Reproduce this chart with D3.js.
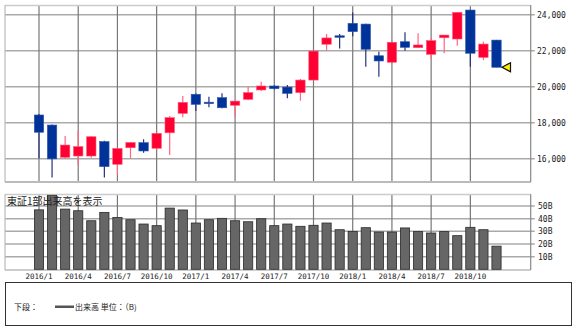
<!DOCTYPE html>
<html>
<head>
<meta charset="utf-8">
<script src="https://cdn.jsdelivr.net/npm/d3@7"></script>
<style>
  body { margin: 0; background: #fff; }
  .num { font-family: "DejaVu Sans Mono", "Liberation Mono", monospace; fill: #222; }
  .jp { font-family: "Noto Sans CJK JP", sans-serif; fill: #222; }
</style>
</head>
<body>
<div id="chart"></div>
<script>
// monthly data, 2016/1 - 2018/12
var months = ["2016/1","2016/2","2016/3","2016/4","2016/5","2016/6","2016/7","2016/8","2016/9","2016/10","2016/11","2016/12",
              "2017/1","2017/2","2017/3","2017/4","2017/5","2017/6","2017/7","2017/8","2017/9","2017/10","2017/11","2017/12",
              "2018/1","2018/2","2018/3","2018/4","2018/5","2018/6","2018/7","2018/8","2018/9","2018/10","2018/11","2018/12"];
var open  = [18430,17870,16080,16150,16150,16950,15690,16610,16890,16580,17440,18520,
             19580,19140,19390,18970,19300,19820,20040,19980,19670,20370,22360,22830,
             23520,23480,21720,21360,22500,22170,21800,22720,22650,24260,21630,22590];
var high  = [18480,17900,17260,17560,17250,17000,16600,16920,17080,17420,18370,19480,
             19620,19440,19630,19210,20000,20280,20080,20090,20430,21990,22930,22930,
             24120,23500,21940,22470,23020,22970,22690,22880,24140,24280,22500,22600];
var low   = [16020,14950,16000,15650,16050,14950,15090,16020,16330,16500,16200,18300,
             18650,18860,18800,18330,19250,19760,19850,19360,19220,20360,22000,22130,
             22800,21110,20560,21300,22000,22150,21520,21860,22280,21110,21480,21080];
var close = [17470,15990,16760,16670,17220,15560,16570,16900,16430,17410,18280,19130,
             19020,19110,18830,19200,19670,20040,19890,19630,20370,21980,22710,22800,
             23060,22080,21430,22470,22190,22320,22560,22870,24130,21860,22370,21080];
var volume = [47,58.5,47.6,46.3,38.4,45,41,39.2,35.8,34.5,48.4,46.9,
              36.6,39.2,40.3,38.4,37.6,40,34.5,35.8,34,34.8,36.6,31.3,
              30,32.9,29.5,29.5,32.7,29.8,28.7,29.8,26.6,33.2,31.3,18.3];
var priceTicks = [16000,18000,20000,22000,24000];
var volTicks = [10,20,30,40,50];
var labelIdx = [0,3,6,9,12,15,18,21,24,27,30,33];

var width = 580, height = 329;
var plotL = 5, plotR = 530.7;
var upColor = "#ff0033", downColor = "#003399";

var svg = d3.select("#chart").append("svg")
    .attr("width", width)
    .attr("height", height);

var x = d3.scaleLinear().domain([0, months.length - 1]).range([39, 496.5]);
var y = d3.scaleLinear().domain([14706, 24540]).range([182, 5]);
var yv = d3.scaleLinear().domain([0, 59.3]).range([269.3, 194.3]);
var fmt = d3.format(",");

// ---- price panel ----
var priceG = svg.append("g");

priceG.selectAll(".hgrid")
    .data(priceTicks)
  .enter().append("line")
    .attr("x1", plotL).attr("x2", plotR + 4)
    .attr("y1", function(d) { return y(d); })
    .attr("y2", function(d) { return y(d); })
    .style("stroke", "#aaa")
    .style("stroke-width", 1.5);

priceG.selectAll(".vgrid")
    .data(labelIdx)
  .enter().append("line")
    .attr("x1", function(d) { return x(d); })
    .attr("x2", function(d) { return x(d); })
    .attr("y1", y.range()[1]).attr("y2", y.range()[0])
    .style("stroke", "#777")
    .style("stroke-width", 1.2);

// frame
priceG.append("line").attr("x1", plotL).attr("x2", plotR).attr("y1", 5.5).attr("y2", 5.5)
    .style("stroke", "#ccc").style("stroke-width", 1.5);
priceG.append("line").attr("x1", plotL).attr("x2", plotR).attr("y1", 182).attr("y2", 182)
    .style("stroke", "#bbb").style("stroke-width", 2);
priceG.append("line").attr("x1", plotL).attr("x2", plotL).attr("y1", 5).attr("y2", 182)
    .style("stroke", "#bbb").style("stroke-width", 1.2);
priceG.append("line").attr("x1", plotR).attr("x2", plotR).attr("y1", 5).attr("y2", 182)
    .style("stroke", "#888").style("stroke-width", 1.2);

// candles
var candles = priceG.selectAll(".candle")
    .data(months.map(function(m, i) { return i; }))
  .enter().append("g");

candles.append("line")
    .attr("x1", function(i) { return x(i); })
    .attr("x2", function(i) { return x(i); })
    .attr("y1", function(i) { return y(high[i]); })
    .attr("y2", function(i) { return y(low[i]); })
    .style("stroke", function(i) { return close[i] >= open[i] ? "#ff6680" : "#223377"; })
    .style("stroke-width", 1.2);

candles.append("rect")
    .attr("x", function(i) { return x(i) - 4.7; })
    .attr("width", 9.4)
    .attr("y", function(i) { return y(Math.max(open[i], close[i])); })
    .attr("height", function(i) { return Math.max(1.5, Math.abs(y(open[i]) - y(close[i]))); })
    .style("fill", function(i) { return close[i] >= open[i] ? upColor : downColor; })
    .style("stroke", function(i) { return close[i] >= open[i] ? "#ff5577" : "#3355aa"; })
    .style("stroke-width", 0.6);

// last close marker
var last = months.length - 1;
var tx = x(last) + 5.5, ty = y(close[last]);
priceG.append("path")
    .attr("d", "M" + tx + "," + ty + "L" + (tx + 8.5) + "," + (ty - 4.5) + "L" + (tx + 8.5) + "," + (ty + 4.5) + "Z")
    .style("fill", "#ffee00")
    .style("stroke", "#111")
    .style("stroke-width", 1.2);

priceG.selectAll(".ptick")
    .data(priceTicks)
  .enter().append("text")
    .attr("class", "num")
    .attr("x", 537)
    .attr("y", function(d) { return y(d) + 3; })
    .style("font-size", "8px")
    .text(function(d) { return fmt(d); });

// ---- volume panel ----
var volG = svg.append("g");

volG.selectAll(".vhgrid")
    .data(volTicks)
  .enter().append("line")
    .attr("x1", plotL).attr("x2", plotR + 4)
    .attr("y1", function(d) { return yv(d); })
    .attr("y2", function(d) { return yv(d); })
    .style("stroke", "#aaa")
    .style("stroke-width", 1.5);

volG.selectAll(".vvgrid")
    .data(labelIdx)
  .enter().append("line")
    .attr("x1", function(d) { return x(d); })
    .attr("x2", function(d) { return x(d); })
    .attr("y1", 194.3).attr("y2", 270)
    .style("stroke", "#777")
    .style("stroke-width", 1.2);

volG.append("line").attr("x1", plotL).attr("x2", plotR).attr("y1", 194.5).attr("y2", 194.5)
    .style("stroke", "#ccc").style("stroke-width", 1.5);
volG.append("line").attr("x1", plotL).attr("x2", plotR).attr("y1", 270).attr("y2", 270)
    .style("stroke", "#bbb").style("stroke-width", 1.5);
volG.append("line").attr("x1", plotL).attr("x2", plotL).attr("y1", 194.3).attr("y2", 270)
    .style("stroke", "#bbb").style("stroke-width", 1.2);
volG.append("line").attr("x1", plotR).attr("x2", plotR).attr("y1", 194.3).attr("y2", 270)
    .style("stroke", "#888").style("stroke-width", 1.2);

volG.selectAll(".bar")
    .data(volume)
  .enter().append("rect")
    .attr("x", function(d, i) { return x(i) - 4.6; })
    .attr("width", 9.2)
    .attr("y", function(d) { return Math.max(194.5, yv(d)); })
    .attr("height", function(d) { return yv(0) - Math.max(194.5, yv(d)); })
    .style("fill", "#666")
    .style("stroke", "#2a2a2a")
    .style("stroke-width", 0.8);

volG.append("text")
    .attr("class", "jp")
    .attr("x", 7)
    .attr("y", 205)
    .style("font-size", "10px")
    .text("東証1部出来高を表示");

volG.selectAll(".vtick")
    .data(volTicks)
  .enter().append("text")
    .attr("class", "num")
    .attr("x", 538)
    .attr("y", function(d) { return yv(d) + 3; })
    .style("font-size", "8px")
    .text(function(d) { return d + "B"; });

// month labels
volG.selectAll(".mlabel")
    .data(labelIdx)
  .enter().append("text")
    .attr("class", "num")
    .attr("x", function(d) { return x(d); })
    .attr("y", 279)
    .attr("text-anchor", "middle")
    .style("font-size", "7.5px")
    .text(function(d) { return months[d]; });

// ---- legend box ----
var leg = svg.append("g");
leg.append("rect")
    .attr("x", 5.5).attr("y", 282.5)
    .attr("width", 566).attr("height", 43)
    .style("fill", "none")
    .style("stroke", "#333")
    .style("stroke-width", 1);
leg.append("text")
    .attr("class", "jp")
    .attr("x", 14).attr("y", 310)
    .style("font-size", "8px")
    .text("下段：");
leg.append("rect")
    .attr("x", 55).attr("y", 305.5)
    .attr("width", 19).attr("height", 2.5)
    .style("fill", "#555");
leg.append("text")
    .attr("class", "jp")
    .attr("x", 75).attr("y", 310)
    .style("font-size", "8px")
    .text("出来高 単位：（B)");
</script>
</body>
</html>
